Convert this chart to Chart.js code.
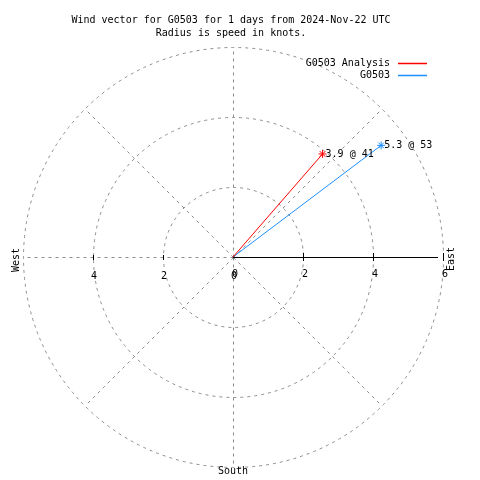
<!DOCTYPE html>
<html lang="en">
<head>
    <meta charset="UTF-8">
    <title>Wind vector G0503</title>
    <script src="https://cdn.jsdelivr.net/npm/chart.js"></script>
    <style>
        body {
            margin: 0;
            padding: 0;
            background: #fff;
        }
        #chartContainer {
            width: 480px;
            height: 480px;
        }
    </style>
</head>
<body>
    <div id="chartContainer">
        <canvas id="windChart" width="480" height="480"></canvas>
    </div>

    <script>
        // data
        const seriesNames = ['G0503 Analysis', 'G0503'];
        const speeds = [3.9, 5.3];        // knots
        const directions = [41, 53];      // degrees from north, clockwise
        const ringValues = [2, 4, 6];
        const spokeAngles = [0, 45, 90, 135, 180, 225, 270, 315];
        const eastTicks = [0, 2, 4, 6];
        const westTicks = [4, 2, 0];
        const titleLines = [
            'Wind vector for G0503 for 1 days from 2024-Nov-22 UTC',
            'Radius is speed in knots.'
        ];
        const compassLabels = { west: 'West', east: 'East', south: 'South' };

        const FONT = '10px "DejaVu Sans Mono", monospace';
        const seriesColors = ['rgb(255, 0, 0)', 'rgb(30, 144, 255)'];

        function vectorPoints(i) {
            const rad = directions[i] * Math.PI / 180;
            return [
                { x: 0, y: 0 },
                { x: speeds[i] * Math.sin(rad), y: speeds[i] * Math.cos(rad) }
            ];
        }

        const polarGrid = {
            id: 'polarGrid',
            beforeDatasetsDraw(chart) {
                const ctx = chart.ctx;
                const xs = chart.scales.x, ys = chart.scales.y;
                const cx = xs.getPixelForValue(0), cy = ys.getPixelForValue(0);
                const max = ringValues[ringValues.length - 1];
                ctx.save();
                ctx.strokeStyle = '#8c8c8c';
                ctx.lineWidth = 1;
                ctx.setLineDash([3, 4]);
                ringValues.forEach(v => {
                    const r = xs.getPixelForValue(v) - cx;
                    ctx.beginPath();
                    ctx.arc(cx + 0.5, cy + 0.5, r, 0, Math.PI * 2);
                    ctx.stroke();
                });
                spokeAngles.forEach(a => {
                    if (a === 90) return; // east axis is drawn solid
                    const rad = a * Math.PI / 180;
                    ctx.beginPath();
                    ctx.moveTo(cx + 0.5, cy + 0.5);
                    ctx.lineTo(xs.getPixelForValue(max * Math.sin(rad)) + 0.5,
                               ys.getPixelForValue(max * Math.cos(rad)) + 0.5);
                    ctx.stroke();
                });
                ctx.setLineDash([]);
                // solid east axis
                ctx.strokeStyle = '#000';
                ctx.beginPath();
                ctx.moveTo(cx, cy + 0.5);
                ctx.lineTo(xs.getPixelForValue(max) - 5, cy + 0.5);
                ctx.stroke();
                eastTicks.forEach(v => {
                    if (v === 0) return;
                    const x = Math.round(xs.getPixelForValue(v)) + 0.5;
                    ctx.beginPath();
                    ctx.moveTo(x, cy - 4);
                    ctx.lineTo(x, cy + 4);
                    ctx.stroke();
                });
                westTicks.forEach(v => {
                    if (v === 0) return;
                    const x = Math.round(xs.getPixelForValue(-v)) + 0.5;
                    ctx.beginPath();
                    ctx.moveTo(x, cy - 2);
                    ctx.lineTo(x, cy + 3);
                    ctx.stroke();
                });
                ctx.restore();
            },
            afterDatasetsDraw(chart) {
                const ctx = chart.ctx;
                const xs = chart.scales.x, ys = chart.scales.y;
                const cx = xs.getPixelForValue(0), cy = ys.getPixelForValue(0);

                // legend lines first, in their own state
                seriesNames.forEach((name, i) => {
                    const y = 63 + i * 12;
                    ctx.save();
                    ctx.strokeStyle = seriesColors[i];
                    ctx.lineWidth = 1.5;
                    ctx.beginPath();
                    ctx.moveTo(398, y + 0.5);
                    ctx.lineTo(427, y + 0.5);
                    ctx.stroke();
                    ctx.restore();
                });

                ctx.save();
                ctx.font = FONT;
                ctx.fillStyle = '#000';
                ctx.textBaseline = 'middle';

                // tick labels under the axis
                ctx.textAlign = 'center';
                eastTicks.forEach(v => ctx.fillText(String(v), xs.getPixelForValue(v) + 2, cy + 17));
                westTicks.forEach(v => ctx.fillText(String(v), xs.getPixelForValue(-v) + 1, cy + 19));

                // vector end labels
                ctx.textAlign = 'left';
                speeds.forEach((s, i) => {
                    const p = vectorPoints(i)[1];
                    ctx.fillText(s.toFixed(1) + ' @ ' + directions[i],
                        xs.getPixelForValue(p.x) + 3, ys.getPixelForValue(p.y));
                });

                // compass labels
                ctx.textAlign = 'center';
                ctx.fillText(compassLabels.south, cx, 471);
                ctx.save();
                ctx.translate(16, 260);
                ctx.rotate(-Math.PI / 2);
                ctx.fillText(compassLabels.west, 0, 0);
                ctx.restore();
                ctx.save();
                ctx.translate(451, 259);
                ctx.rotate(-Math.PI / 2);
                ctx.fillText(compassLabels.east, 0, 0);
                ctx.restore();

                // title
                titleLines.forEach((t, i) => ctx.fillText(t, 231, 20 + i * 13));

                // legend text
                ctx.textAlign = 'right';
                seriesNames.forEach((name, i) => ctx.fillText(name, 390, 63 + i * 12));
                ctx.restore();
            }
        };

        const ctx = document.getElementById('windChart').getContext('2d');
        const windChart = new Chart(ctx, {
            type: 'line',
            data: {
                datasets: seriesNames.map((name, i) => ({
                    label: name,
                    data: vectorPoints(i),
                    borderColor: seriesColors[i],
                    backgroundColor: seriesColors[i],
                    borderWidth: 1,
                    pointStyle: 'star',
                    pointRadius: [0, 4],
                    pointBorderWidth: 1,
                    tension: 0
                }))
            },
            options: {
                responsive: false,
                animation: false,
                layout: {
                    padding: { left: 23, top: 47, right: 37, bottom: 13 }
                },
                scales: {
                    x: { type: 'linear', min: -6, max: 6, display: false },
                    y: { type: 'linear', min: -6, max: 6, display: false }
                },
                plugins: {
                    legend: { display: false },
                    tooltip: { enabled: false }
                }
            },
            plugins: [polarGrid]
        });
    </script>
</body>
</html>
